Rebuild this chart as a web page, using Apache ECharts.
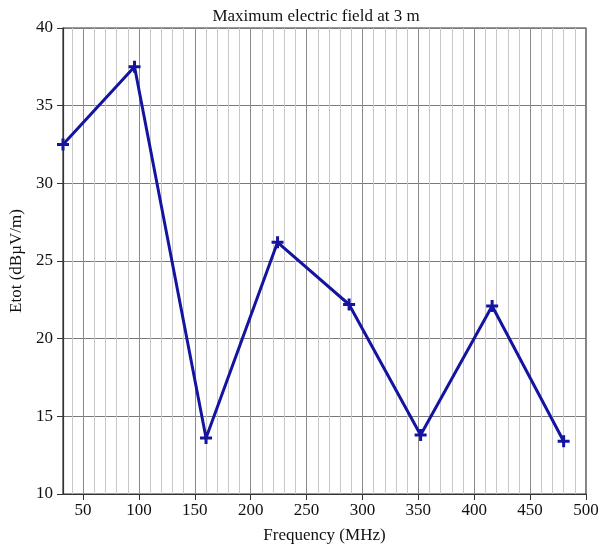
<!DOCTYPE html>
<html>
<head>
<meta charset="utf-8">
<script src="https://cdn.jsdelivr.net/npm/echarts@6/dist/echarts.min.js"></script>
<style>
  html, body { margin: 0; padding: 0; background: #fff; }
  #chart { width: 603px; height: 549px; }
</style>
</head>
<body>
<div id="chart"></div>
<script>
// Measured maximum field strength at 3 m
const frequencies = [32, 96, 160, 224, 288, 352, 416, 480];      // MHz
const fieldLevels = [32.5, 37.5, 13.6, 26.2, 22.2, 13.8, 22.1, 13.4]; // dBµV/m

// Labelled frequency ticks and the finer 10 MHz grid
const majorTicks = [50, 100, 150, 200, 250, 300, 350, 400, 450, 500];
const minorTicks = [40, 50, 60, 70, 80, 90, 100, 110, 120, 130, 140, 150, 160, 170, 180, 190,
  200, 210, 220, 230, 240, 250, 260, 270, 280, 290, 300, 310, 320, 330, 340, 350, 360, 370,
  380, 390, 400, 410, 420, 430, 440, 450, 460, 470, 480, 490];

const FONT = '"Liberation Serif", "DejaVu Serif", serif';

// Plus-shaped marker
const crossSymbol = 'path://M4.5,0h3v4.5h4.5v3h-4.5v4.5h-3v-4.5h-4.5v-3h4.5z';

const chart = echarts.init(document.getElementById('chart'));
chart.setOption({
  backgroundColor: '#ffffff',
  animation: false,
  title: {
    text: 'Maximum electric field at 3 m',
    left: 311, top: 3, textAlign: 'center',
    textStyle: { fontFamily: FONT, fontSize: 17, fontWeight: 'normal', color: '#111' }
  },
  grid: {
    left: 62, right: 17, top: 28, bottom: 54,
    show: true, borderColor: '#333', borderWidth: 1.2, backgroundColor: 'transparent'
  },
  xAxis: [
    {
      // fine grid every 10 MHz
      type: 'value', min: 32, max: 500, position: 'bottom',
      axisLine: { show: false },
      axisTick: { show: false, customValues: minorTicks },
      axisLabel: { show: false },
      splitLine: { show: true, lineStyle: { color: '#c8c8c8', width: 1 } }
    },
    {
      type: 'value', min: 32, max: 500, position: 'bottom',
      name: 'Frequency (MHz)', nameLocation: 'middle', nameGap: 33,
      nameTextStyle: { fontFamily: FONT, fontSize: 17, color: '#111' },
      axisLine: { show: true, lineStyle: { color: '#333', width: 1.2 } },
      axisTick: { show: true, length: 6, customValues: majorTicks, lineStyle: { color: '#333' } },
      axisLabel: { show: true, customValues: majorTicks, margin: 8,
        fontFamily: FONT, fontSize: 17, color: '#111' },
      splitLine: { show: true, lineStyle: { color: '#8a8a8a', width: 1 } }
    }
  ],
  yAxis: {
    type: 'value', min: 10, max: 40, interval: 5,
    name: 'Etot (dBµV/m)', nameLocation: 'middle', nameGap: 38,
    nameTextStyle: { fontFamily: FONT, fontSize: 17, color: '#111' },
    axisLine: { show: true, lineStyle: { color: '#333', width: 1.2 } },
    axisTick: { show: true, length: 6, lineStyle: { color: '#333' } },
    axisLabel: { margin: 10, fontFamily: FONT, fontSize: 17, color: '#111' },
    splitLine: { show: true, lineStyle: { color: '#7a7a7a', width: 1 } }
  },
  series: [{
    type: 'line',
    xAxisIndex: 1,
    data: frequencies.map((f, i) => [f, fieldLevels[i]]),
    symbol: crossSymbol, symbolSize: 12,
    showAllSymbol: true,
    lineStyle: { color: '#1414a0', width: 3 },
    itemStyle: { color: '#1414a0' },
    z: 5
  }]
});
</script>
</body>
</html>
